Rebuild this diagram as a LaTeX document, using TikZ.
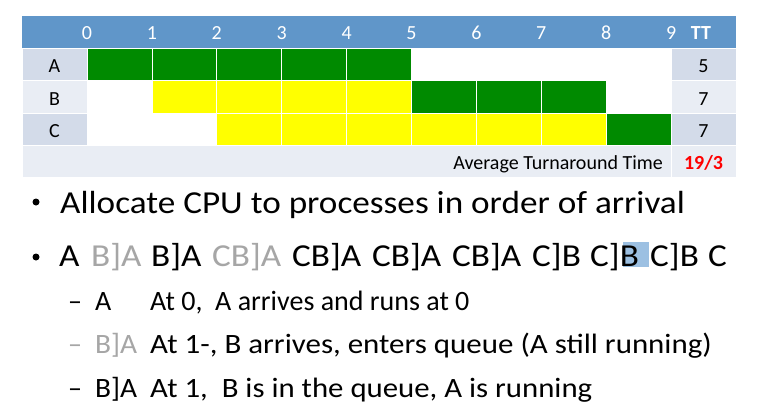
\documentclass[tikz,border=0pt]{standalone}
\usepackage{fontspec}
\usepackage{graphicx}
\setmainfont{Carlito}
\begin{document}
\begin{tikzpicture}[x=1pt,y=-1pt,
  hdr/.style={fill=hdrblue},
  cellrun/.style={fill=rungreen,draw=white,line width=0.8pt},
  cellwait/.style={fill=waityellow,draw=white,line width=0.8pt},
  celldark/.style={fill=rowdark,draw=white,line width=0.8pt},
  celllight/.style={fill=rowlight,draw=white,line width=0.8pt},
  hdrtxt/.style={anchor=base,text=white,font=\fontsize{20}{20}\selectfont,inner sep=0pt},
  tabtxt/.style={anchor=base,text=black,font=\fontsize{20}{20}\selectfont,inner sep=0pt},
  bigtxt/.style={anchor=base west,inner sep=0pt,font=\fontsize{32}{32}\selectfont},
  subtxt/.style={anchor=base west,inner sep=0pt,font=\fontsize{28}{28}\selectfont},
  bulletdot/.style={circle,fill=black,inner sep=0pt,minimum size=7pt}]
\definecolor{hdrblue}{HTML}{6096C9}
\definecolor{rungreen}{HTML}{008A00}
\definecolor{waityellow}{HTML}{FFFF00}
\definecolor{rowdark}{HTML}{D3DBE9}
\definecolor{rowlight}{HTML}{E9EDF4}
\definecolor{dimgray}{HTML}{A6A6A6}
\definecolor{hilite}{HTML}{9CC0E2}
\definecolor{ttred}{HTML}{FF0000}
\newcommand{\wide}[2]{\scalebox{#1}[1]{#2}}

\useasboundingbox (0,0) rectangle (762,414);
\fill[white] (0,0) rectangle (762,414);

% header band with time ticks
\fill[hdr] (22,16) rectangle (736,48);
\foreach \t in {0,...,9}
  \node[hdrtxt] (tick\t) at ({87+64.9*\t},40) {\t};
\node[hdrtxt,font=\bfseries\fontsize{20}{20}\selectfont] (tthead) at (701,40) {TT};

% process label column and turnaround column
\fill[celldark]  (22,48)  rectangle (87,80);
\fill[celllight] (22,80)  rectangle (87,113);
\fill[celldark]  (22,113) rectangle (87,145);
\fill[celldark]  (671,48)  rectangle (736,80);
\fill[celllight] (671,80)  rectangle (736,113);
\fill[celldark]  (671,113) rectangle (736,145);
\fill[celllight] (22,145)  rectangle (671,177);
\fill[celllight] (671,145) rectangle (736,177);

\node[tabtxt] (labA) at (54.5,73)  {A};
\node[tabtxt] (labB) at (54.5,105.5) {B};
\node[tabtxt] (labC) at (54.5,138) {C};
\node[tabtxt] (ttA) at (703.5,73)  {5};
\node[tabtxt] (ttB) at (703.5,105.5) {7};
\node[tabtxt] (ttC) at (703.5,138) {7};

% schedule cells: A runs 0-5; B waits 1-5, runs 5-8; C waits 2-8, runs 8-9
\foreach \c in {0,...,4}
  \filldraw[cellrun] ({87+64.9*\c},48) rectangle ({87+64.9*(\c+1)},80);
\foreach \c in {1,...,4}
  \filldraw[cellwait] ({87+64.9*\c},80) rectangle ({87+64.9*(\c+1)},113);
\foreach \c in {5,...,7}
  \filldraw[cellrun] ({87+64.9*\c},80) rectangle ({87+64.9*(\c+1)},113);
\foreach \c in {2,...,7}
  \filldraw[cellwait] ({87+64.9*\c},113) rectangle ({87+64.9*(\c+1)},145);
\filldraw[cellrun] ({87+64.9*8},113) rectangle ({87+64.9*9},145);

% average row
\node[tabtxt,anchor=base east] (avglab) at (663,169) {Average Turnaround Time};
\node[tabtxt,text=ttred,font=\bfseries\fontsize{20}{20}\selectfont] (avgval) at (703.5,169) {19/3};

% bullet points
\node[bulletdot] (dot1) at (36,202) {};
\node[bigtxt] (line1) at (60,213) {\wide{1.10}{Allocate CPU to processes in order of arrival}};
\node[bulletdot] (dot2) at (36,257) {};
\fill[hilite] (623,242) rectangle (649,267);
% queue states, one per step
\foreach \x/\s/\c [count=\k] in {59/A/black, 91/B]A/dimgray, 151/B]A/black,
    212/CB]A/dimgray, 292/CB]A/black, 372/CB]A/black, 452/CB]A/black,
    532/C]B/black, 590/C]B/black, 650/C]B/black, 708/C/black}
  \node[bigtxt,text=\c] (q\k) at (\x,266) {\wide{1.10}{\s}};

% sub-points
\node[subtxt] (d1) at (68,310) {–};
\node[subtxt] (s1) at (95,310) {A};
\node[subtxt] (e1) at (150,310) {At 0,\ \ A arrives and runs at 0};
\node[subtxt,text=dimgray] (d2) at (68,353) {–};
\node[subtxt,text=dimgray] (s2) at (95,353) {\wide{1.05}{B]A}};
\node[subtxt] (e2) at (150,353) {\wide{1.105}{At 1-, B arrives, enters queue (A still running)}};
\node[subtxt] (d3) at (68,397) {–};
\node[subtxt] (s3) at (95,397) {\wide{1.05}{B]A}};
\node[subtxt] (e3) at (150,397) {\wide{1.1}{At 1,\ \ B is in the queue, A is running}};
\end{tikzpicture}
\end{document}
